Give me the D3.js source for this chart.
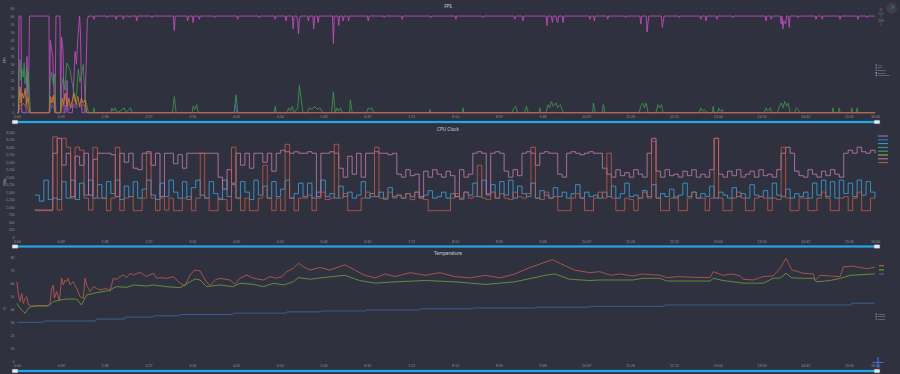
<!DOCTYPE html>
<html>
<head>
<meta charset="utf-8">
<script src="https://cdn.jsdelivr.net/npm/d3@7"></script>
<style>
  body { margin: 0; background: #2f323e; }
  svg { display: block; font-family: "Noto Sans", "DejaVu Sans", sans-serif; }
  .title { fill: #d0d3da; font-size: 4.6px; }
  .unit { fill: #9ea3ae; font-size: 3.4px; }
  .axis text { fill: #8f949f; }
</style>
</head>
<body>
<div id="chart"></div>
<script>
// ---- shared x axis (seconds) ----
const xTickSeconds = [0, 49, 98, 147, 196, 245, 294, 343, 392, 441, 490, 539, 588, 637, 686, 735, 784, 833, 882, 931, 960];

// ---- FPS panel ----
const fpsTicks = [0, 5, 10, 15, 20, 25, 30, 35, 40, 45, 50, 55, 60, 65];
const fpsNames = ['FPS', 'Jank', 'BigJank', 'Stutter', 'InterFrame'];
const fpsColors = ['#bd4bbb', '#3f9a50', '#4a6fd2', '#d8892f', '#c0584a'];
const fpsValues = ['60', '0.00', '0', '0.00', '0'];

const fpsMain = [[0,0],[1.5,0],[2.2,60],[4.5,60],[5.2,0],[10,0],[11.2,35],[12.3,10],[13.4,30],[14,60],
  [35.8,60],[36.4,0],[37.3,45],[38.5,40],[40,35],[41.5,10],[42.6,0],[43.6,60],[48.1,60],[48.8,0],[49.8,47],
  [51.5,39],[52.8,0],[55,0],[56,20],[57,0],[62,0],[65,38],[66.5,30],[68,45],[70,60],[71,50],[72.5,0],[76,0],
  [78.7,58],[80,60],[85,60],[86,58],[87,60],[100,60],[101,59],[102,60],[110,60],[111,58],[112,60],[118,60],
  [119,58],[120,60],[125,60],[126,59],[127,60],[133,60],[134,57],[135,60],[150,60],[151,59],[152,60],[175,60],
  [176,51],[177,60],[190,60],[191,57],[192,60],[196,60],[197,56],[198,60],[203,60],[204,58],[205,60],[220,60],
  [221,59],[222,60],[246,60],[247,58],[248,60],[270,60],[271,59],[272,60],[288,60],[289,58],[290,60],[300,60],
  [301,57],[302,60],[308,60],[309,52],[310,60],[313,60],[314,57],[315,49],[316,58],[317,60],[325,60],[326,57],
  [327,60],[331,60],[332,52],[333,60],[336,60],[337,56],[338,60],[353,60],[354,43],[355,60],[359,60],[360,54],
  [361,60],[364,60],[365,57],[366,60],[370,60],[371,57],[372,60],[392,60],[393,57],[394,60],[410,60],[411,59],
  [412,60],[430,60],[431,58],[432,60],[462,60],[463,59],[464,60],[490,60],[491,58],[492,60],[520,60],[521,59],
  [522,60],[556,60],[557,58],[558,60],[565,60],[566,57],[567,60],[592,60],[593,54],[594,60],[598,60],[599,56],
  [600,60],[603,60],[604,57],[605,56],[606,60],[610,60],[611,56],[612,60],[640,60],[641,58],[642,60],[645,60],
  [646,57],[647,60],[660,60],[661,58],[662,60],[680,60],[681,59],[682,60],[697,60],[698,55],[699,60],[704,60],
  [705,50],[706,56],[707,60],[721,60],[722,53],[723,56],[724,60],[740,60],[741,59],[742,60],[764,60],[765,58],
  [766,60],[770,60],[771,57],[772,60],[782,60],[783,58],[784,60],[800,60],[801,59],[802,60],[837,60],[838,57],
  [839,60],[843,60],[844,58],[845,60],[854,60],[855,55],[856,60],[857,52],[858,57],[860,55],[861,60],[863,60],
  [864,53],[865,60],[873,60],[874,59],[875,60],[893,60],[894,58],[895,60],[900,60],[901,58],[902,60],[920,60],
  [921,58],[922,60],[940,60],[941,58],[942,60],[950,60],[951,59],[952,60],[960,60]];

const fpsJank = [[0,0],[1.5,0],[2.5,22],[3.4,33],[4.5,20],[5.5,27],[7,22],[8,31],[9,18],[10.8,28],[12,12],[13,25],
  [14.5,4],[15.5,0],[36,0],[37,20],[38.8,25],[40.5,18],[42,24],[43.5,0],[48.5,0],[50,17],[51.8,22],[53.7,14],
  [55.6,31],[57.4,29],[59.3,27],[61.2,20],[63,15],[65,7],[66.8,12],[68.5,27],[70.5,19],[72.4,24],[74.2,30],
  [76.1,9],[78,5],[79.8,0],[85,0],[86,3],[87,0],[105,0],[106,3],[108,1],[110,3],[112,0],[118,2],[120,3],[122,0],
  [127,3],[129,0],[174,0],[176,10],[178,0],[196,0],[197,4],[199,2],[201,5],[203,0],[243,0],[245,11],[247,0],
  [288,0],[289,4],[290,0],[302,0],[304,3],[306,1],[308,4],[310,0],[314,3],[316,17],[318,8],[320,0],[325,0],
  [327,3],[330,2],[333,4],[336,2],[339,3],[342,0],[352,0],[354,13],[356,0],[358,3],[360,1],[362,3],[364,0],
  [372,0],[373,8],[375,0],[391,0],[393,3],[395,2],[397,3],[399,0],[461,0],[462,2],[463,0],[498,0],[499,3],
  [500,0],[554,0],[556,3],[558,4],[560,0],[568,0],[570,4],[572,0],[584,0],[585,3],[586,0],[592,0],[594,5],
  [596,3],[598,7],[600,4],[603,6],[605,3],[608,5],[611,0],[644,0],[645,6],[647,0],[655,0],[656,5],[658,0],
  [696,0],[698,4],[700,6],[702,3],[704,6],[706,0],[715,0],[717,5],[719,3],[721,5],[723,0],[763,0],[765,3],
  [767,1],[769,2],[772,0],[778,0],[779,4],[780,0],[784,0],[785,3],[787,1],[789,2],[790,0],[836,0],[838,3],
  [840,1],[843,3],[844,0],[851,0],[853,4],[855,6],[857,3],[859,7],[861,4],[863,6],[865,0],[870,0],[872,3],
  [874,2],[876,0],[912,0],[913,3],[914,0],[919,0],[920,3],[921,0],[933,0],[934,3],[935,0],[939,0],[940,3],
  [941,0],[960,0]];

const fpsBigJank = [[0,0],[2,0],[3,3],[5,2],[6.5,0],[37,0],[39,5],[41,3],[42.5,0],[53,0],[55,4],[58,2],[62,4],
  [66,3],[70,4],[74,2],[77,0],[243,0],[244,5],[246,0],[960,0]];

const fpsStutter = [[0,0],[1.5,0],[2.5,8],[3.4,16],[4.5,6],[6,12],[7.5,9],[9,15],[10.8,5],[12.5,10],[14,0],[36,0],
  [37.5,10],[39,6],[41,11],[42.5,0],[49,0],[50.5,9],[52,5],[54,12],[56,4],[58,9],[60,3],[62,8],[64,12],[66,5],
  [68,10],[70,4],[72,9],[74,6],[76,8],[78,0],[960,0]];

const fpsInter = [[0,0],[1.5,0],[3,5],[5,4],[7,6],[9,4],[11,5],[13,0],[36,0],[38,8],[40,10],[42,4],[43,0],[49,0],
  [51,5],[54,4],[57,6],[60,3],[63,5],[66,4],[69,6],[72,4],[75,5],[78,0],[960,0]];

// ---- CPU clock panel (one sample every 5 s from 20 s) ----
const cpuTicks = [0, 250, 500, 750, 1000, 1250, 1500, 1750, 2000, 2250, 2500, 2750, 3000, 3250, 3500];
const cpuStart = 20, cpuStep = 5;
const coreColors = ['#8083c9', '#4379d6', '#3aa1dc', '#39a39c', '#41ad5e', '#8dc53e', '#c774b4', '#c65b49'];
const coreCluster = ['little', 'little', 'little', 'mid', 'mid', 'mid', 'mid', 'big'];

const littleClock = [1400,1200,1900,1250,
  1300,1250,1850,1300,1900,1250,1800,1400,1900,1300,1750,
  1300,1850,1450,1900,1250,1700,1350,1850,1300,1600,1900,1400,1250,1800,1350,1900,1500,1300,1850,1250,1650,1900,1400,
  1300,1850,1450,1250,1900,1350,1750,1300,1850,1500,1250,1900,1400,1700,1300,1850,1350,1600,1900,1300,1450,1800,
  1350,1800,1300,1500,1900,1350,1450,1300,1700,1350,1500,1300,1400,1850,1300,1450,1350,1500,1300,1650,1350,1400,
  1300,1450,1350,1500,1300,1400,1550,1300,1350,1500,1300,1450,1350,1300,1500,1400,1800,1350,1900,1450,1750,1300,1850,
  1400,1900,1300,1700,1450,1350,1800,1300,1550,1400,1300,1650,1350,1500,1300,1450,1750,1300,1500,1350,1400,1300,
  1500,1350,1700,1300,1450,1800,1350,1400,1300,1550,1350,1750,1300,1450,1350,1600,1300,1400,1800,1350,1500,1300,
  1450,1350,1700,1300,1500,1400,1300,1650,1350,1450,1300,1750,1400,1350,1550,1300,1800,1400,1350,1600,1300,1450,1350,
  1500,1300,1800,1400,1900,1350,1850,1300,1900,1450,1800,1350,1900,1400,1850,1500,1300];

const midClock = [900,900,900,900,
  2800,3300,2400,2800,1350,2700,2400,2800,1400,2600,2800,
  2800,2800,2750,1350,2800,2500,2800,2300,2250,2800,2850,2400,2800,1350,2800,2800,2450,2750,2300,2800,2800,2800,2800,
  2800,2800,2800,2000,1600,2250,1800,2800,2400,2800,2300,2800,2800,2500,2800,2200,2800,2900,2850,2800,2850,2800,
  2800,2850,2800,1350,2800,2800,2850,2800,2300,2000,2700,2100,2800,2000,2800,2800,2850,2800,2800,2750,2800,2100,
  2000,2250,2050,2100,1350,2200,2000,2250,2100,2000,2200,2050,1350,2250,2000,2100,2800,2850,2800,1400,2800,2850,2800,
  2200,2000,2250,2050,2800,2850,2800,2400,2800,2850,2800,2800,2100,2000,2800,2850,2800,2750,2800,2850,2800,2800,
  2300,2100,2000,2250,2050,2150,2000,2250,2100,2000,2800,3300,2200,2000,2250,2050,2100,2000,2200,2050,2250,2000,
  2100,2000,2250,3300,2100,2000,2200,2050,2250,2000,2100,2200,2000,2250,2050,2100,2000,2250,2800,3000,2800,2200,2050,
  2000,2250,2100,2000,2200,2050,2250,2100,2000,2800,2900,2800,3000,2850,2800,2900,2800];

const bigClock = [880,880,880,880,
  3350,900,3300,3000,1300,3000,2900,1300,900,3000,1300,
  1300,880,1300,3000,880,1300,1350,880,880,1300,2800,1300,880,1300,900,1300,880,880,1300,1350,880,1300,2800,
  1300,880,880,1300,1250,880,3000,1300,880,1300,880,880,1300,2400,1300,880,1300,880,3100,1300,880,1300,
  1300,1400,880,1300,1500,1250,1300,3100,1300,1450,880,880,880,1300,1500,1350,3000,1300,1250,1500,1300,1400,
  1300,1450,1250,1500,1300,1250,880,880,880,880,880,1300,1450,1250,1500,1300,1350,2400,1300,1250,1500,1300,1450,
  1300,1250,1500,1350,1300,1450,3000,1300,1250,1500,1300,1350,880,880,880,1300,1450,1300,880,880,1300,1500,
  1300,2800,1300,880,880,1300,1250,880,1300,1500,1300,3200,1300,880,880,1300,1350,880,880,1300,1500,1300,
  1300,880,1300,3300,1300,880,880,1300,1500,1300,880,880,1300,1350,1300,880,1300,1250,3000,1300,880,880,1300,
  1300,880,880,1300,1500,1300,880,880,1300,1350,880,1300,1500,880,880,1300,1300];

// ---- Temperature panel ----
const tempTicks = [0, 10, 20, 30, 40, 50, 60, 70, 80];
const tempNames = ['CTemp', 'GTemp', 'BTemp'];
const tempColors = ['#b85a4c', '#6b9b3a', '#3e63a8'];

const tempCpu = [[0,61],[1.5,51],[3.4,46],[5.2,52],[7.1,44.5],[9,48.4],[10.8,49.6],[12.7,43.3],[16.4,42.5],[22,42.8],
  [35,42.8],[36.9,44.5],[38.8,56],[40.7,58.6],[41.8,48.4],[44.4,53.5],[47.4,46.3],[50,63.7],[51.8,58.6],[53.7,62.4],
  [55.6,61.1],[57.4,63.7],[59.3,58.6],[63,61.1],[66.8,56],[70.5,49.6],[74.2,48.4],[76.1,63.7],[78,58.6],[81.7,53.5],
  [85.4,57.3],[89.2,56],[92.9,54.7],[100.4,56],[104,53.5],[107.8,63.7],[111.5,62.9],[115.3,65],[119,66.2],
  [122.7,64.2],[126.4,67.5],[130.2,66.2],[137.6,68.3],[145.1,65],[152.6,67.5],[156.3,63.7],[160,64.2],[167.5,63.7],
  [175,65],[182.4,59.9],[188,58],[193.6,66.2],[199.2,70.1],[204.8,69.3],[210.4,62.4],[216,58],[221.6,62.4],
  [227.2,63.7],[238.3,62.4],[244,59.1],[249.5,63.7],[257,66.2],[264.4,63.7],[275.6,62.4],[283,65],[290.6,63.7],
  [296.2,65],[301.8,68.8],[309.2,71.4],[314.8,75.2],[322,72],[328,70],[339,72],[350,70],[367,74],[378,70],[389,66],
  [401,64],[412,67],[423,65],[440,68],[457,66],[473,68],[490,65],[507,64],[524,66],[540,64],[557,67],[574,72],
  [591,76],[599,78],[608,75],[624,70],[641,68],[652,68.8],[665,66],[675,67],[689,65.5],[700,67],[719.5,66],
  [727,64.2],[740,65],[755,64.5],[775.5,64.2],[779,68.8],[790,66],[800,67],[809,65.5],[812.6,63],[824,62.4],
  [835,65],[846,65.5],[854,71.4],[860.5,79],[867,70.1],[880,67.5],[891,67],[893,62],[898.6,66],[910,65.5],
  [921,65],[924.7,72.5],[935,73],[943,72],[951,71],[958,72],[960,72]];

const tempGpu = [[0,44.5],[3.4,40.7],[7.1,38.2],[9,36.9],[12.7,40.7],[16.4,42],[22,42.5],[35,42.5],[40.7,45.8],
  [47.4,47],[55.6,47.8],[66.8,47.8],[72,43.3],[78,51],[89.2,52.7],[100.4,54],[111.5,57.3],[122.7,56.8],[130.2,58.6],
  [145.1,57.8],[152.6,58.6],[167.5,57.3],[182.4,56.5],[199.2,63.2],[204.8,62.4],[212,57.3],[227.2,58.6],[242,57.3],
  [249.5,59.9],[264.4,59.1],[275.6,57.3],[287,59.9],[298,58.6],[309.2,61.1],[314.8,64.2],[328,63],[339,64],
  [367,66],[383,62],[401,60],[423,61],[457,62],[490,61],[524,59],[557,61],[591,66],[602,67],[618,63],[641,62],
  [652,62.4],[689,62.4],[700,63.7],[719.5,63.7],[727,61.6],[775.5,61.6],[779,63.7],[790,62],[812.6,60],[835,60],
  [846,63.7],[854,64],[860.5,67.5],[867,64],[880,63.7],[891,63.7],[895,61],[910,62],[921,63.7],[933,66],[958,67],
  [960,67]];

const tempBattery = [[0,30],[29,30],[30,31],[88,31],[89,32.5],[120,32.5],[121,34],[152,34],[153,35],[181,35],
  [182,36],[241,36],[242,37],[301,37],[302,38],[340,38],[341,38.7],[390,38.7],[391,39.5],[450,39.5],[451,40.3],
  [510,40.3],[511,41],[580,41],[581,41.6],[640,41.6],[641,42.2],[724,42.2],[725,43.3],[933,43.3],[934,44.6],[960,44.6]];

// ---------------------------------------------------------------
const W = 900, H = 374;
const plotLeft = 17, plotRight = 875;

const svg = d3.select('#chart').append('svg')
  .attr('width', W)
  .attr('height', H);

svg.append('rect')
  .attr('width', W)
  .attr('height', H)
  .attr('fill', '#2f323e');

const xScale = d3.scaleLinear()
  .domain([0, 960])
  .range([plotLeft, plotRight]);

const fmtTime = s => Math.floor(s / 60) + ':' + String(s % 60).padStart(2, '0');

function drawPanel(p) {
  const yScale = d3.scaleLinear()
    .domain(p.yDomain)
    .range(p.yRange);

  const g = svg.append('g');

  g.append('text')
    .attr('class', 'title')
    .attr('x', 448)
    .attr('y', p.titleY)
    .attr('text-anchor', 'middle')
    .text(p.title);

  g.append('text')
    .attr('class', 'unit')
    .attr('transform', `translate(5.5,${p.unitY}) rotate(-90)`)
    .attr('text-anchor', 'middle')
    .text(p.unit);

  g.append('g')
    .attr('class', 'axis')
    .attr('transform', `translate(0,${p.yRange[0]})`)
    .call(d3.axisBottom(xScale).tickValues(xTickSeconds).tickFormat(fmtTime).tickSize(0).tickPadding(3))
    .attr('font-size', 3.6)
    .call(a => a.select('.domain').remove());

  g.append('g')
    .attr('class', 'axis')
    .attr('transform', `translate(${plotLeft - 1},0)`)
    .call(d3.axisLeft(yScale).tickValues(p.yTicks).tickFormat(p.fmt).tickSize(0).tickPadding(1.5))
    .attr('font-size', 3.4)
    .call(a => a.select('.domain').remove());

  const line = d3.line()
    .x(d => xScale(d[0]))
    .y(d => yScale(d[1]))
    .curve(p.curve || d3.curveLinear);

  p.series.forEach(s => {
    g.append('path')
      .datum(s.data)
      .attr('fill', 'none')
      .attr('stroke', s.color)
      .attr('stroke-width', s.width || 0.8)
      .attr('stroke-opacity', s.opacity == null ? 1 : s.opacity)
      .attr('stroke-linejoin', 'round')
      .attr('d', line);
  });

  // data zoom slider under the panel
  g.append('rect')
    .attr('x', plotLeft - 2)
    .attr('y', p.sliderY - 1.1)
    .attr('width', plotRight - plotLeft + 4)
    .attr('height', 2.2)
    .attr('fill', '#22a6ee');
  [plotLeft - 2, plotRight + 2].forEach(hx => {
    g.append('rect')
      .attr('x', hx - 2.8)
      .attr('y', p.sliderY - 1.8)
      .attr('width', 5.6)
      .attr('height', 3.6)
      .attr('rx', 0.6)
      .attr('fill', '#e9eaee')
      .attr('stroke', '#9da2ad')
      .attr('stroke-width', 0.3);
  });

  return g;
}

// FPS
const fpsPanel = drawPanel({
  title: 'FPS', titleY: 7.5, unit: 'FPS', unitY: 60,
  yDomain: [0, 65], yRange: [112.7, 8], yTicks: fpsTicks, fmt: d => d,
  sliderY: 122,
  series: [
    {data: fpsMain, color: fpsColors[0], width: 0.9},
    {data: fpsJank, color: fpsColors[1]},
    {data: fpsBigJank, color: fpsColors[2]},
    {data: fpsStutter, color: fpsColors[3]},
    {data: fpsInter, color: fpsColors[4]}
  ]
});

fpsValues.forEach((v, i) => {
  fpsPanel.append('text')
    .attr('x', 881)
    .attr('y', 11 + i * 3.7)
    .attr('text-anchor', 'middle')
    .attr('font-size', 2.6)
    .attr('fill', fpsColors[i === 4 ? 2 : i])
    .text(v);
});
fpsNames.forEach((n, i) => {
  const ly = 65 + i * 2.6;
  fpsPanel.append('rect')
    .attr('x', 875.5).attr('y', ly - 0.8)
    .attr('width', 1.6).attr('height', 1.6)
    .attr('fill', i === 4 ? '#3fa0e0' : fpsColors[i]);
  fpsPanel.append('text')
    .attr('x', 878).attr('y', ly + 0.7)
    .attr('font-size', 2.2)
    .attr('fill', '#a7abb5')
    .text(n);
});

// CPU clock: cores of one cluster share a clock, the last one drawn of each cluster shows on top
const clusterData = {little: littleClock, mid: midClock, big: bigClock};
const toPairs = arr => arr.map((v, i) => [cpuStart + i * cpuStep, v]);
const topOfCluster = [2, 6, 7];
const cpuPanel = drawPanel({
  title: 'CPU Clock', titleY: 131, unit: 'MHz', unitY: 182,
  yDomain: [0, 3500], yRange: [237, 132.3], yTicks: cpuTicks, fmt: d3.format(','),
  sliderY: 246.5,
  curve: d3.curveStepAfter,
  series: coreColors.map((c, i) => ({
    data: toPairs(clusterData[coreCluster[i]]),
    color: c,
    width: topOfCluster.includes(i) ? 0.8 : 0.3,
    opacity: topOfCluster.includes(i) ? 1 : 0.2
  }))
});
coreColors.forEach((c, i) => {
  cpuPanel.append('line')
    .attr('x1', 878).attr('x2', 888)
    .attr('y1', 136 + i * 3.8).attr('y2', 136 + i * 3.8)
    .attr('stroke', c)
    .attr('stroke-width', 1);
});

// Temperature
const tempPanel = drawPanel({
  title: 'Temperature', titleY: 255, unit: '°C', unitY: 309,
  yDomain: [0, 80], yRange: [361.5, 257], yTicks: tempTicks, fmt: d => d,
  sliderY: 371,
  series: [
    {data: tempCpu, color: tempColors[0], width: 0.85},
    {data: tempGpu, color: tempColors[1], width: 0.85},
    {data: tempBattery, color: tempColors[2], width: 0.85}
  ]
});
tempColors.forEach((c, i) => {
  tempPanel.append('line')
    .attr('x1', 879).attr('x2', 884)
    .attr('y1', 265.7 + i * 4.2).attr('y2', 265.7 + i * 4.2)
    .attr('stroke', c)
    .attr('stroke-width', 1.2);
  const ly = 314 + i * 2.6;
  tempPanel.append('rect')
    .attr('x', 875.5).attr('y', ly - 0.8)
    .attr('width', 1.6).attr('height', 1.6)
    .attr('fill', c);
  tempPanel.append('text')
    .attr('x', 878).attr('y', ly + 0.7)
    .attr('font-size', 2.2)
    .attr('fill', '#a7abb5')
    .text(tempNames[i]);
});

// corner controls
svg.append('circle')
  .attr('cx', 891.5).attr('cy', 8.3).attr('r', 5)
  .attr('fill', '#3b3e4a')
  .attr('stroke', '#4a4e5a')
  .attr('stroke-width', 0.5);
svg.append('path')
  .attr('d', 'M889.5,10.3 L893.5,6.3 M891,6.3 L893.5,6.3 L893.5,8.8')
  .attr('fill', 'none')
  .attr('stroke', '#6f7480')
  .attr('stroke-width', 0.6);

svg.append('path')
  .attr('d', 'M878,357 V368 M872.5,362.5 H883.5')
  .attr('stroke', '#3d6ff0')
  .attr('stroke-width', 1.2);
</script>
</body>
</html>
